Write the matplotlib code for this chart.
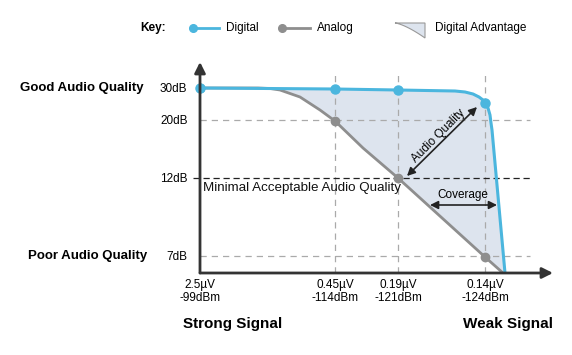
import matplotlib
matplotlib.use("Agg")
import matplotlib.pyplot as plt
from matplotlib.patches import Polygon
from matplotlib.lines import Line2D
import numpy as np

plt.rcParams['font.family'] = ['Liberation Sans', 'DejaVu Sans']

# schematic positions (the chart is not to scale)
x_ticks = [0, 135, 198, 285]
x_labels = ["2.5\u00b5V\n-99dBm", "0.45\u00b5V\n-114dBm", "0.19\u00b5V\n-121dBm", "0.14\u00b5V\n-124dBm"]
y_ticks = [185, 153, 95, 17]
y_labels = ["30dB", "20dB", "12dB", "7dB"]

digital_x = [0, 135, 198, 255, 265, 273, 279, 283, 285, 288, 290, 291, 292, 305]
digital_y = [185, 184, 183, 182, 181, 179, 176, 173, 170, 165, 158, 150, 143, 0]
digital_dots = [0, 1, 2, 8]

analog_x = [0, 58, 70, 80, 100, 120, 135, 163, 198, 285, 303]
analog_y = [185, 185, 184.5, 183, 176, 163, 152, 125, 95, 16, 0]
analog_dots = [0, 6, 8, 9]

blue = "#4bb6de"
grey = "#8e8e8e"
fill = "#dde4ee"
axcol = "#333333"

W, H = 572, 355
fig = plt.figure(figsize=(W / 100, H / 100), dpi=100)

# overlay in pixel coords for the key and side labels
ov = fig.add_axes([0, 0, 1, 1])
ov.set_xlim(0, W)
ov.set_ylim(H, 0)
ov.axis("off")

ax = fig.add_axes([200 / W, 82 / H, 355 / W, 211 / H])
ax.set_xlim(0, 355)
ax.set_ylim(0, 211)
for s in ax.spines.values():
    s.set_visible(False)

# advantage area
poly = list(zip(digital_x, digital_y)) + list(zip(analog_x, analog_y))[::-1]
ax.add_patch(Polygon(poly, closed=True, facecolor=fill, edgecolor="none", zorder=1))

# guide lines
for xv in x_ticks[1:]:
    ax.plot([xv, xv], [0, 198], color="#aaaaaa", lw=0.9, ls=(0, (5, 4)), zorder=2)
for yv in [y_ticks[1], y_ticks[3]]:
    ax.plot([0, 330], [yv, yv], color="#aaaaaa", lw=0.9, ls=(0, (5, 4)), zorder=2)
ax.plot([-7, 330], [y_ticks[2], y_ticks[2]], color="#222222", lw=0.9,
        ls=(0, (5, 3)), zorder=2, clip_on=False)

# curves
ax.plot(analog_x, analog_y, color=grey, lw=2, zorder=3, solid_capstyle="round")
ax.plot([analog_x[i] for i in analog_dots], [analog_y[i] for i in analog_dots],
        "o", color=grey, ms=6, zorder=4)
ax.plot(digital_x, digital_y, color=blue, lw=2.2, zorder=5, solid_joinstyle="round")
ax.plot([digital_x[i] for i in digital_dots], [digital_y[i] for i in digital_dots],
        "o", color=blue, ms=6.5, zorder=6, clip_on=False)

# axes with arrows
ax.annotate("", xy=(353, 0), xytext=(0, 0), annotation_clip=False,
            arrowprops=dict(arrowstyle="-|>", color=axcol, lw=2, mutation_scale=16,
                            shrinkA=0, shrinkB=0), zorder=7)
ax.annotate("", xy=(0, 211), xytext=(0, 0), annotation_clip=False,
            arrowprops=dict(arrowstyle="-|>", color=axcol, lw=2, mutation_scale=16,
                            shrinkA=0, shrinkB=0), zorder=7)

ax.set_xticks(x_ticks)
ax.set_xticklabels(x_labels, fontsize=8.5, linespacing=1.15)
ax.set_yticks(y_ticks)
ax.set_yticklabels(y_labels, fontsize=8.5)
ax.tick_params(axis="x", length=0, pad=4)
ax.tick_params(axis="y", length=0, pad=9)

# annotations
ax.text(3, 85, "Minimal Acceptable Audio Quality", fontsize=9.6, va="center", ha="left",
        color="#111111", zorder=8)
ax.annotate("", xy=(207, 97), xytext=(277, 166),
            arrowprops=dict(arrowstyle="<|-|>", color="#222222", lw=1.2, mutation_scale=12,
                            shrinkA=0, shrinkB=0), zorder=8)
ax.text(239, 137, "Audio Quality", rotation=45, fontsize=8.5, ha="center", va="center",
        rotation_mode="anchor", zorder=8)
ax.annotate("", xy=(230, 68), xytext=(297, 68),
            arrowprops=dict(arrowstyle="<|-|>", color="#222222", lw=1.2, mutation_scale=12,
                            shrinkA=0, shrinkB=0), zorder=8)
ax.text(263, 78, "Coverage", fontsize=8.5, ha="center", va="center", zorder=8)

# side labels
ov.text(20, 88, "Good Audio Quality", fontsize=9.5, fontweight="bold", va="center")
ov.text(28, 256, "Poor Audio Quality", fontsize=9.5, fontweight="bold", va="center")
ov.text(233, 324, "Strong Signal", fontsize=11, fontweight="bold", ha="center", va="center")
ov.text(508, 324, "Weak Signal", fontsize=11, fontweight="bold", ha="center", va="center")

# key
ov.text(140, 28, "Key:", fontsize=8.5, fontweight="bold", va="center")
ov.add_line(Line2D([193, 219], [28, 28], color=blue, lw=2))
ov.plot([193], [28], "o", color=blue, ms=5.5)
ov.text(226, 28, "Digital", fontsize=8.5, va="center")
ov.add_line(Line2D([282, 310], [28, 28], color=grey, lw=2))
ov.plot([282], [28], "o", color=grey, ms=5.5)
ov.text(317, 28, "Analog", fontsize=8.5, va="center")
t = np.linspace(0, 1, 14)
tri = [(395 + 30 * s, 23 + 15 * s ** 1.4) for s in t] + [(425, 23)]
ov.add_patch(Polygon(tri, closed=True, facecolor=fill, edgecolor="#999999", lw=0.8))
ov.text(435, 28, "Digital Advantage", fontsize=8.5, va="center")

fig.savefig("out.png", dpi=100)
